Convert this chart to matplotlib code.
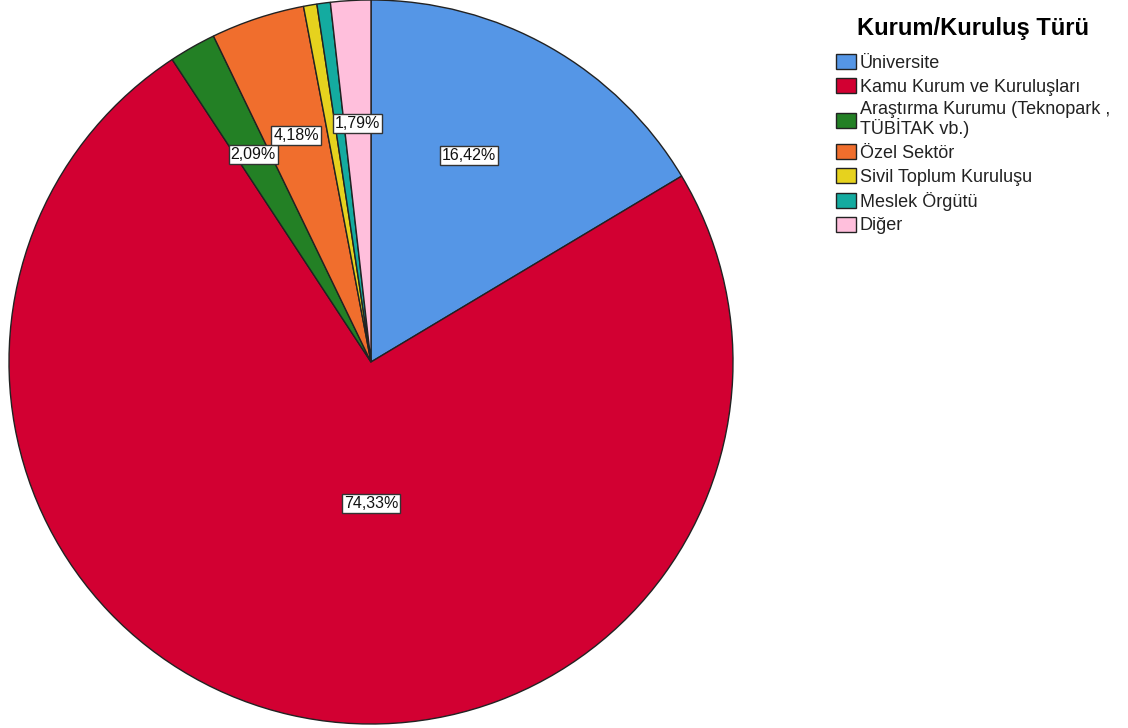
import matplotlib.pyplot as plt
import numpy as np

plt.rcParams['font.family'] = ['Liberation Sans', 'DejaVu Sans']

# Data
categories = ['Üniversite', 'Kamu Kurum ve Kuruluşları',
              'Araştırma Kurumu (Teknopark ,\nTÜBİTAK vb.)', 'Özel Sektör',
              'Sivil Toplum Kuruluşu', 'Meslek Örgütü', 'Diğer']
counts = [55, 249, 7, 14, 2, 2, 6]
labels = ['16,42%', '74,33%', '2,09%', '4,18%', '', '', '1,79%']
colors = ['#5596e6', '#d20032', '#238025', '#f06e2d', '#e6d21e', '#14aba0', '#ffbfdc']

fig = plt.figure(figsize=(11.28, 7.28), dpi=100)
ax = fig.add_axes([9 / 1128, 4 / 728, 724 / 1128, 724 / 728])

wedges, _ = ax.pie(counts, colors=colors, startangle=90, counterclock=False,
                   radius=1, wedgeprops=dict(edgecolor='#222222', linewidth=1.0))
for w in wedges:
    w.set_clip_on(False)
ax.set_xlim(-1, 1)
ax.set_ylim(-1, 1)
ax.set_aspect('equal')
ax.axis('off')

# percentage labels
total = sum(counts)
ang = 90.0
for i, (c, lab) in enumerate(zip(counts, labels)):
    span = 360.0 * c / total
    mid = ang - span / 2
    ang -= span
    if not lab:
        continue
    r = 0.66
    if i == 1:
        mid, r = -90, 0.39
    elif i == 0:
        mid, r = mid + 4.2, 0.63
    x = r * np.cos(np.radians(mid))
    y = r * np.sin(np.radians(mid))
    ax.text(x, y, lab, ha='center', va='center', fontsize=11.5, color='#111111',
            bbox=dict(boxstyle='square,pad=0.12', facecolor='white',
                      edgecolor='#333333', linewidth=1.0))

leg = fig.legend(wedges, categories, loc='upper left', bbox_to_anchor=(829 / 1128, 1 - 10 / 728),
                 frameon=False, fontsize=13, title='Kurum/Kuruluş Türü',
                 title_fontproperties={'weight': 'bold', 'size': 17},
                 handlelength=1.1, handleheight=0.9, handletextpad=0.2,
                 labelspacing=0.33, borderaxespad=0)
leg._legend_box.sep = 10
for h in leg.legend_handles:
    h.set_edgecolor('#222222')
    h.set_linewidth(1.0)
for t in leg.get_texts():
    t.set_color('#222222')
    t.set_linespacing(1.0)

fig.savefig('out.png', dpi=100)
